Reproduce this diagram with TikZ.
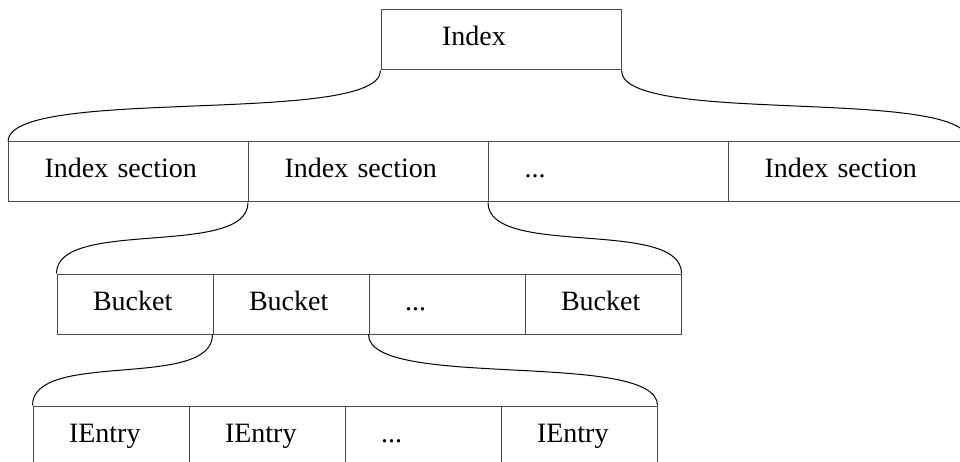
\documentclass[tikz,border=0pt]{standalone}
\usepackage{fontspec}
\setmainfont{Liberation Serif}
\begin{document}
\begin{tikzpicture}[x=1pt,y=-1pt,
  cell/.style={draw=boxgray, line width=1pt, minimum height=60pt, inner ysep=0pt,
    inner xsep=36pt, align=left, text height=19pt, text depth=7pt,
    font=\fontsize{28}{32}\selectfont},
  wide/.style={cell, minimum width=240pt, text width=168pt},
  narrow/.style={cell, minimum width=156pt, text width=84pt},
  link/.style={draw=black, line width=1pt}]
\definecolor{boxgray}{HTML}{4A4A4A}
\useasboundingbox (0,0) rectangle (960,462);
% top
\node[cell, minimum width=240pt, inner xsep=61pt, text width=118pt] (idx) at (501,40) {Index};
% index sections
\node[wide] (s1) at (128.5,172) {Index section};
\node[wide] (s2) at (368.5,172) {Index section};
\node[wide] (s3) at (608.5,172) {...};
\node[wide] (s4) at (848.5,172) {Index section};
% buckets
\node[narrow] (b1) at (135,304) {Bucket};
\node[narrow] (b2) at (291,304) {Bucket};
\node[narrow] (b3) at (447,304) {...};
\node[narrow] (b4) at (603,304) {Bucket};
% entries
\node[narrow] (e1) at (111,436) {IEntry};
\node[narrow] (e2) at (267,436) {IEntry};
\node[narrow] (e3) at (423,436) {...};
\node[narrow] (e4) at (579,436) {IEntry};
% connectors
\draw[link] (idx.south west) .. controls +(0,56) and +(0,-56) .. (s1.north west);
\draw[link] (idx.south east) .. controls +(0,56) and +(0,-56) .. (s4.north east);
\draw[link] (s2.south west) .. controls +(0,56) and +(0,-56) .. (b1.north west);
\draw[link] (s3.south west) .. controls +(0,56) and +(0,-56) .. (b4.north east);
\draw[link] (b2.south west) .. controls +(0,56) and +(0,-56) .. (e1.north west);
\draw[link] (b3.south west) .. controls +(0,56) and +(0,-56) .. (e4.north east);
\end{tikzpicture}
\end{document}
